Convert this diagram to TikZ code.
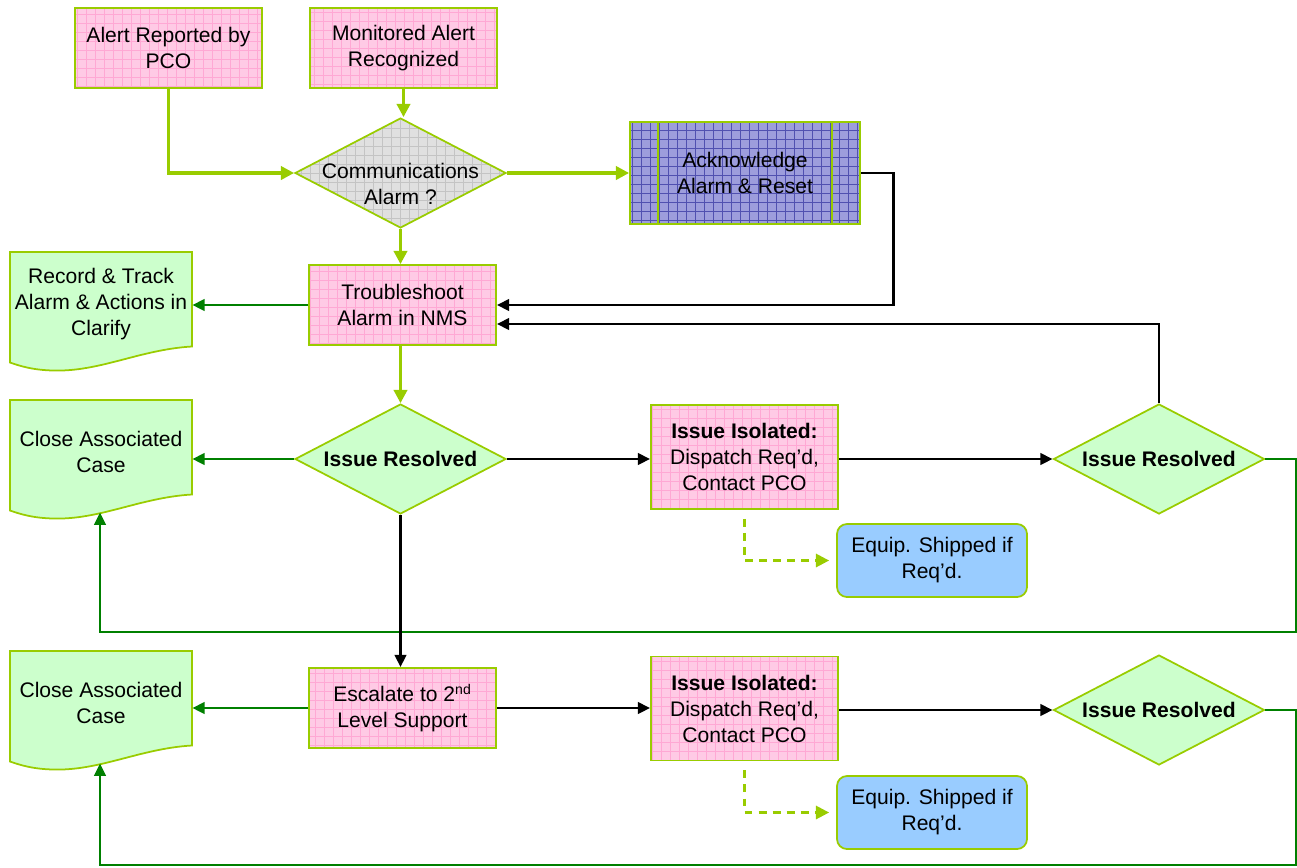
\documentclass[tikz,border=0pt]{standalone}
\usepackage{fontspec}
\setmainfont{Liberation Sans}
\usetikzlibrary{shapes.geometric,arrows.meta,calc}

\definecolor{lgreen}{HTML}{99CC00}
\definecolor{dgreen}{HTML}{008000}
\definecolor{pinkfill}{HTML}{FFCAE5}
\definecolor{pinkgrid}{HTML}{FFA8D4}
\definecolor{mintfill}{HTML}{CCFFCC}
\definecolor{greyfill}{HTML}{E0E0E0}
\definecolor{greygrid}{HTML}{C4C4C4}
\definecolor{bluefill}{HTML}{9D9DDC}
\definecolor{bluegrid}{HTML}{5050B0}
\definecolor{skyfill}{HTML}{99CCFF}

\tikzset{
	txt/.style={font=\fontsize{12}{14.8}\selectfont, align=center, text=black},
	pinkbox/.style={txt, draw=lgreen, line width=1pt, fill=pinkfill, inner sep=0pt,
		minimum width=3.74cm, minimum height=1.6cm,
		path picture={\draw[pinkgrid, line width=0.4pt, step=0.18cm]
			(path picture bounding box.south west) grid (path picture bounding box.north east);}},
	isobox/.style={pinkbox, minimum height=2.08cm},
	ackbox/.style={txt, draw=lgreen, line width=1pt, fill=bluefill, inner sep=0pt,
		minimum width=4.6cm, minimum height=2.04cm,
		path picture={\draw[bluegrid, line width=0.4pt, step=0.18cm]
			(path picture bounding box.south west) grid (path picture bounding box.north east);
			\draw[lgreen, line width=1pt]
			([xshift=0.56cm]path picture bounding box.south west) -- ([xshift=0.56cm]path picture bounding box.north west)
			([xshift=-0.56cm]path picture bounding box.south east) -- ([xshift=-0.56cm]path picture bounding box.north east);}},
	decision/.style={txt, font=\fontsize{12}{14.8}\selectfont\bfseries, shape=diamond, draw=lgreen,
		line width=1pt, fill=mintfill, aspect=1.92, inner xsep=-0.6cm, inner ysep=-0.1cm,
		minimum width=4.22cm, minimum height=2.2cm},
	commdiam/.style={decision, fill=greyfill,
		path picture={\draw[greygrid, line width=0.4pt, step=0.18cm]
			(path picture bounding box.south west) grid (path picture bounding box.north east);}},
	shipbox/.style={txt, draw=lgreen, line width=1pt, fill=skyfill, rounded corners=0.2cm,
		minimum width=3.8cm, minimum height=1.46cm, inner sep=0pt},
	docline/.style={draw=lgreen, line width=1pt, fill=mintfill},
	doctext/.style={txt, minimum width=3.64cm, inner sep=0pt},
	ygarrow/.style={draw=lgreen, line width=1.8pt, -{Triangle[length=7.5pt,width=7.5pt]}},
	blkarrow/.style={draw=black, line width=1.6pt, -{Triangle[length=7pt,width=6.5pt]}},
	grnarrow/.style={draw=dgreen, line width=1.6pt, -{Triangle[length=7pt,width=6.5pt]}},
	dasharrow/.style={ygarrow, line width=1.4pt, dash pattern=on 4.5pt off 3.5pt}
}

% document symbol: name, top left corner, text
\newcommand{\docnode}[3]{%
	\filldraw[docline, shift={(#2)}] (0,0) -- (3.64,0) -- (3.64,-1.89)
		.. controls (2.6,-1.95) and (1.8,-2.4) .. (0.86,-2.37)
		.. controls (0.45,-2.36) and (0.2,-2.28) .. (0,-2.21) -- cycle;
	\node[doctext] (#1) at ($(#2)+(1.82,-1.04)$) {#3};
	\coordinate (#1b) at ($(#2)+(1.8,-2.25)$);
}

\begin{document}
\begin{tikzpicture}

	\useasboundingbox (0,0) rectangle (25.94,-17.34);

	\node[pinkbox] (alert) at (3.37,-0.96) {Alert Reported by\\PCO};
	\node[pinkbox] (monitor) at (8.07,-0.96) {Monitored Alert\\Recognized};
	\node[commdiam, label={[name=commtext, txt, yshift=-0.22cm]center:{Communications\\Alarm ?}}] (comm) at (8.01,-3.46) {};
	\node[ackbox] (ack) at (14.9,-3.46) {Acknowledge\\Alarm \& Reset};
	\node[pinkbox] (trouble) at (8.05,-6.1) {Troubleshoot\\Alarm in NMS};
	\docnode{record}{0.2,-5.04}{Record \& Track\\Alarm \& Actions in\\Clarify}

	\node[decision] (resolvedA) at (8.01,-9.18) {Issue Resolved};
	\docnode{closeA}{0.2,-8.0}{Close Associated\\Case}
	\node[isobox] (isolatedA) at (14.89,-9.14) {\textbf{Issue Isolated:}\\Dispatch Req’d,\\Contact PCO};
	\node[shipbox] (shipA) at (18.64,-11.21) {Equip. Shipped if\\Req’d.};
	\node[decision] (resolvedB) at (23.18,-9.18) {Issue Resolved};

	\node[pinkbox] (escalate) at (8.05,-14.16) {Escalate to 2\textsuperscript{nd}\\Level Support};
	\docnode{closeB}{0.2,-13.02}{Close Associated\\Case}
	\node[isobox] (isolatedB) at (14.89,-14.17) {\textbf{Issue Isolated:}\\Dispatch Req’d,\\Contact PCO};
	\node[shipbox] (shipB) at (18.64,-16.25) {Equip. Shipped if\\Req’d.};
	\node[decision] (resolvedC) at (23.18,-14.2) {Issue Resolved};

	\coordinate (loopA) at (25.92,-12.64);
	\coordinate (loopB) at (25.92,-17.3);

	\draw[ygarrow] (alert.south) |- (comm.west);
	\draw[ygarrow] (monitor.south) -- (monitor.south |- comm.north);
	\draw[ygarrow] (comm.east) -- (ack.west);
	\draw[ygarrow] (comm.south) -- (comm.south |- trouble.north);
	\draw[blkarrow] (ack.east) -- ++(0.66,0) |- (trouble.east);
	\draw[grnarrow] (trouble.west) -- (trouble.west -| record.east);
	\draw[ygarrow] (trouble.south -| resolvedA.north) -- (resolvedA.north);

	\draw[grnarrow] (resolvedA.west) -- (resolvedA.west -| closeA.east);
	\draw[blkarrow] (resolvedA.east) -- (resolvedA.east -| isolatedA.west);
	\draw[blkarrow] (isolatedA.east |- resolvedB.west) -- (resolvedB.west);
	\draw[blkarrow] (resolvedB.north) |- ([yshift=-0.38cm]trouble.east);
	\draw[grnarrow] (resolvedB.east) -| (loopA) -| (closeAb);
	\draw[dasharrow] ([yshift=-0.18cm]isolatedA.south) |- ([xshift=-0.14cm]shipA.west);
	\draw[blkarrow] (resolvedA.south) -- (resolvedA.south |- escalate.north);

	\draw[grnarrow] (escalate.west) -- (escalate.west -| closeB.east);
	\draw[blkarrow] (escalate.east) -- (escalate.east -| isolatedB.west);
	\draw[blkarrow] (isolatedB.east |- resolvedC.west) -- (resolvedC.west);
	\draw[grnarrow] (resolvedC.east) -| (loopB) -| (closeBb);
	\draw[dasharrow] ([yshift=-0.18cm]isolatedB.south) |- ([xshift=-0.14cm]shipB.west);

\end{tikzpicture}
\end{document}
